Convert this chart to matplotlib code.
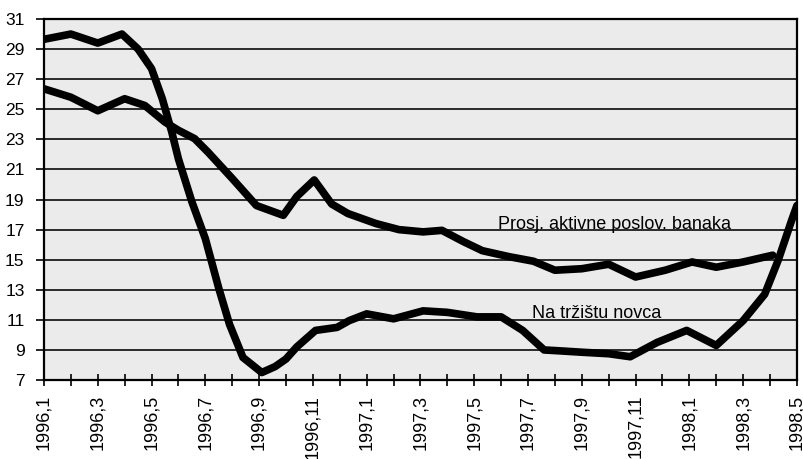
import matplotlib.pyplot as plt

plt.rcParams['font.family'] = ['Liberation Sans', 'DejaVu Sans']

# month index 0 = 1996,1 ... 28 = 1998,5
tick_labels = ['1996,1', '1996,3', '1996,5', '1996,7', '1996,9', '1996,11',
               '1997,1', '1997,3', '1997,5', '1997,7', '1997,9', '1997,11',
               '1998,1', '1998,3', '1998,5']

# Na tržištu novca
money_x = [0, 1, 2, 2.9, 3.5, 4, 4.4, 4.75, 5, 5.5, 6, 6.5, 6.9, 7.4, 8.1,
           8.6, 9, 9.4, 10.1, 10.9, 11.35, 12, 13, 14.1, 15, 16.1, 17, 17.8,
           18.6, 19.1, 20, 21, 21.8, 22.8, 23.9, 25, 26, 26.8, 27.3, 27.8, 28]
money_market = [29.65, 30.0, 29.4, 30.0, 29.0, 27.7, 25.7, 23.5, 21.7, 18.85,
                16.4, 13.1, 10.7, 8.5, 7.5, 7.9, 8.4, 9.2, 10.3, 10.5, 10.95,
                11.4, 11.07, 11.6, 11.5, 11.2, 11.2, 10.3, 9.0, 8.95, 8.85,
                8.75, 8.55, 9.5, 10.3, 9.3, 10.95, 12.7, 14.95, 17.6, 18.6]

# Prosj. aktivne poslov. banaka
bank_x = [0, 1, 2, 3, 3.75, 4.5, 5, 5.6, 6.1, 7, 7.9, 8.9, 9.4, 10.05, 10.7,
          11.3, 12.35, 13.2, 14.1, 14.8, 15.6, 16.3, 17.3, 18.2, 19, 20, 21,
          22, 23.1, 24.1, 25, 26, 27.1]
bank_rate = [26.36, 25.8, 24.9, 25.7, 25.25, 24.15, 23.6, 23.05, 22.15, 20.4,
             18.6, 17.95, 19.2, 20.3, 18.7, 18.07, 17.4, 17.0, 16.85, 16.95,
             16.2, 15.6, 15.2, 14.9, 14.3, 14.4, 14.7, 13.85, 14.3, 14.85,
             14.5, 14.85, 15.3]

fig = plt.figure(figsize=(8.04, 4.59), dpi=100)
ax = fig.add_axes([0.0547, 0.172, 0.9365, 0.7866])
ax.set_facecolor('#ebebeb')

for y in range(9, 31, 2):
    ax.axhline(y, color='#2a2a2a', lw=1.4, zorder=1)

ax.plot(money_x, money_market, color='black', lw=5.5, solid_joinstyle='round',
        solid_capstyle='round', zorder=3)
ax.plot(bank_x, bank_rate, color='black', lw=5.5, solid_joinstyle='round',
        solid_capstyle='round', zorder=3)

ax.set_xlim(0, 28)
ax.set_ylim(7, 31)
ax.set_yticks(range(7, 32, 2))
ax.set_xticks(range(0, 29))
ax.set_xticklabels([tick_labels[i // 2] if i % 2 == 0 else '' for i in range(29)],
                   rotation=90, fontsize=13)
ax.tick_params(axis='x', direction='inout', length=9, width=1.2, pad=6)
ax.tick_params(axis='y', direction='out', length=6, width=1.2, labelsize=12.5, pad=8)
for s in ax.spines.values():
    s.set_linewidth(1.6)

ax.text(16.9, 17.05, 'Prosj. aktivne poslov. banaka', fontsize=13, va='baseline',
        ha='left', zorder=4)
ax.text(18.15, 11.15, 'Na tržištu novca', fontsize=13, va='baseline', ha='left', zorder=4)

fig.savefig('out.png', dpi=100)
